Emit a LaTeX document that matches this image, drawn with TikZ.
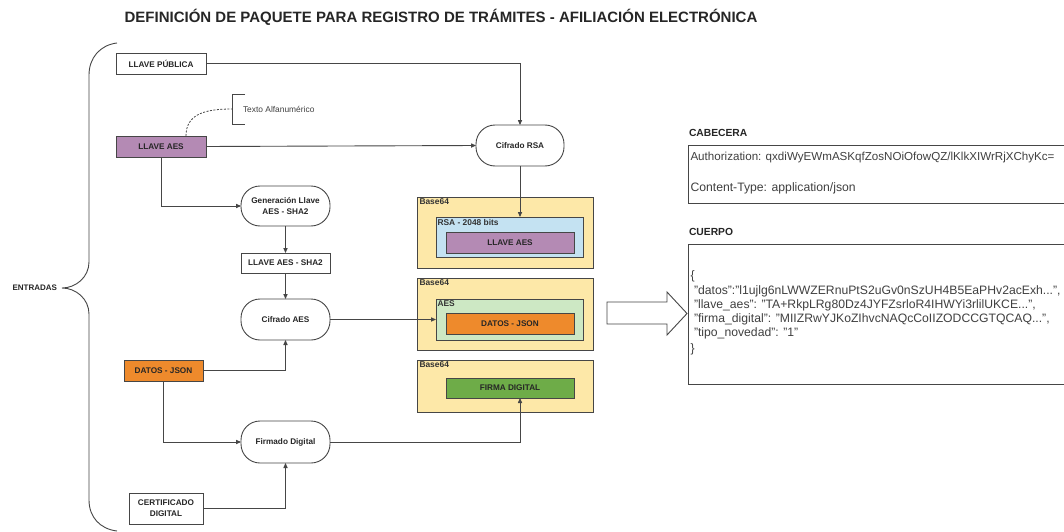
\documentclass[tikz,border=0pt]{standalone}
\usepackage{fontspec}
\setmainfont{Liberation Sans}
\usetikzlibrary{arrows.meta,positioning}
\definecolor{cpurple}{RGB}{180,138,180}
\definecolor{corange}{RGB}{238,138,44}
\definecolor{cyellow}{RGB}{253,232,168}
\definecolor{cblue}{RGB}{196,226,242}
\definecolor{cgreenl}{RGB}{205,232,196}
\definecolor{cgreen}{RGB}{110,172,72}
\definecolor{cline}{RGB}{70,70,70}
\tikzset{
  every node/.style={inner sep=0pt, outer sep=0pt},
  fs/.style={font=\bfseries\fontsize{#1}{#1}\selectfont},
  inbox/.style={draw=cline, line width=0.9, fill=white, align=center, fs=8.2, text=black!85},
  proc/.style={draw=cline, line width=0.9, fill=white, align=center, rounded corners=19, fs=8.2, text=black!85},
  layer/.style={draw=cline, line width=0.9},
  laylab/.style={anchor=north west, fs=8.4, text=black!80},
  arr/.style={draw=cline, line width=0.9, -{Triangle[length=5,width=4.2]}},
  plain/.style={draw=cline, line width=0.9},
  rtext/.style={anchor=west, font=\fontsize{12.2}{13}\selectfont, text=black!75},
}
\begin{document}
\begin{tikzpicture}[x=1pt,y=-1pt]
\clip (0,0) rectangle (1064,532);
\fill[white] (0,0) rectangle (1064,532);

% title
\node[fs=15, text=black!85] (title) at (441,17) {DEFINICIÓN DE PAQUETE PARA REGISTRO DE TRÁMITES - AFILIACIÓN ELECTRÓNICA};

% brace
\draw[plain] (117,43) .. controls (100,45) and (89,58) .. (89,75) -- (89,262)
  .. controls (89,277) and (76,288) .. (62,288)
  .. controls (76,288) and (89,299) .. (89,314) -- (89,500)
  .. controls (89,517) and (100,529) .. (117,531);
\node[anchor=east, fs=8, text=black!85] (entradas) at (57,288) {ENTRADAS};

% input nodes
\node[inbox, minimum width=90, minimum height=21] (lp) at (161,63.5) {LLAVE PÚBLICA};
\node[inbox, fill=cpurple, minimum width=90, minimum height=21] (laes) at (161,146.5) {LLAVE AES};
\node[inbox, fill=corange, minimum width=79, minimum height=21] (datos) at (163.5,370.5) {DATOS - JSON};
\node[inbox, minimum width=74, minimum height=31] (cert) at (166,508.5) {CERTIFICADO\\[3pt]DIGITAL};

% annotation
\draw[plain] (245,94) -- (232,94) -- (232,124) -- (245,124);
\node[anchor=west, font=\fontsize{8.4}{9}\selectfont, text=black!75] (txa) at (243,109) {Texto Alfanumérico};
\coordinate (brk) at (232,109);
\draw[cline, line width=0.8, dash pattern=on 2pt off 1.5pt] (laes.north -| 186,0) .. controls (186,114) and (205,109) .. (brk);

% process nodes
\node[proc, minimum width=88, minimum height=41] (crsa) at (520,145.5) {Cifrado RSA};
\node[proc, minimum width=89, minimum height=40] (gen) at (285.5,206) {Generación Llave\\[3.5pt]AES - SHA2};
\node[inbox, minimum width=89, minimum height=20] (sha) at (285.5,263) {LLAVE AES - SHA2};
\node[proc, minimum width=89, minimum height=41] (caes) at (285.5,319.5) {Cifrado AES};
\node[proc, minimum width=89, minimum height=42] (firm) at (285.5,442) {Firmado Digital};

% base64 layers
\draw[layer, fill=cyellow] (417,197) rectangle (593,268);
\node[laylab] (b1lab) at (419.5,198.5) {Base64};
\node[layer, fill=cblue, minimum width=147, minimum height=40] (rsab) at (509.5,237) {};
\node[laylab] (rsalab) at (437.5,219) {RSA - 2048 bits};
\node[inbox, fill=cpurple, minimum width=128, minimum height=21] (laes2) at (510,242.5) {LLAVE AES};

\draw[layer, fill=cyellow] (417,278) rectangle (593,350);
\node[laylab] (b2lab) at (419.5,279.5) {Base64};
\node[layer, fill=cgreenl, minimum width=147, minimum height=41] (aesb) at (509.5,319.5) {};
\node[laylab] (aeslab) at (437.5,301) {AES};
\node[inbox, fill=corange, minimum width=128, minimum height=21] (datos2) at (510,323.5) {DATOS - JSON};

\draw[layer, fill=cyellow] (417,360) rectangle (593,412);
\node[laylab] (b3lab) at (419.5,361.5) {Base64};
\node[inbox, fill=cgreen, minimum width=128, minimum height=20] (firma) at (510,388) {FIRMA DIGITAL};

% connectors
\draw[arr] (lp.east) -| (crsa.north);
\draw[arr] (laes.east) -- (crsa.west);
\draw[arr] (laes.south) |- (gen.west);
\draw[arr] (gen.south) -- (sha.north);
\draw[arr] (sha.south) -- (caes.north);
\draw[arr] (datos.east) -| (caes.south);
\draw[arr] (datos.south) |- (firm.west);
\draw[arr] (cert.east) -| (firm.south);
\draw[arr] (crsa.south) -- (crsa.south |- rsab.north);
\draw[arr] (caes.east) -- (caes.east -| aesb.west);
\draw[arr] (firm.east) -| (firma.south -| crsa.south);

% big hollow arrow
\draw[cline, line width=0.9, fill=white] (607,302) -- (667,302) -- (667,292) -- (687,313.5) -- (667,335) -- (667,324) -- (607,324) -- cycle;

% right side
\node[anchor=west, fs=10.3, text=black!85] (cablab) at (689,133) {CABECERA};
\draw[layer] (688,145) rectangle (1075,203);
\node[rtext, font=\fontsize{11.6}{13}\selectfont] (auth) at (690.5,157.5) {Authorization: qxdiWyEWmASKqfZosNOiOfowQZ/lKlkXIWrRjXChyKc=};
\node[rtext] (ctype) at (690.5,188) {Content-Type: application/json};

\node[anchor=west, fs=10.3, text=black!85] (cuelab) at (689,232) {CUERPO};
\draw[layer] (688,244) rectangle (1075,384);
\node[rtext] (j0) at (690.5,276) {\{};
\node[rtext] (j1) at (694,291.5) {"datos":"l1ujlg6nLWWZERnuPtS2uGv0nSzUH4B5EaPHv2acExh...",};
\node[rtext] (j2) at (694,305.5) {"llave\_aes": "TA+RkpLRg80Dz4JYFZsrloR4IHWYi3rlilUKCE...",};
\node[rtext] (j3) at (694,319) {"firma\_digital": "MIIZRwYJKoZIhvcNAQcCoIIZODCCGTQCAQ...",};
\node[rtext] (j4) at (694,333) {"tipo\_novedad": "1"};
\node[rtext] (j5) at (690.5,349) {\}};
\end{tikzpicture}
\end{document}
